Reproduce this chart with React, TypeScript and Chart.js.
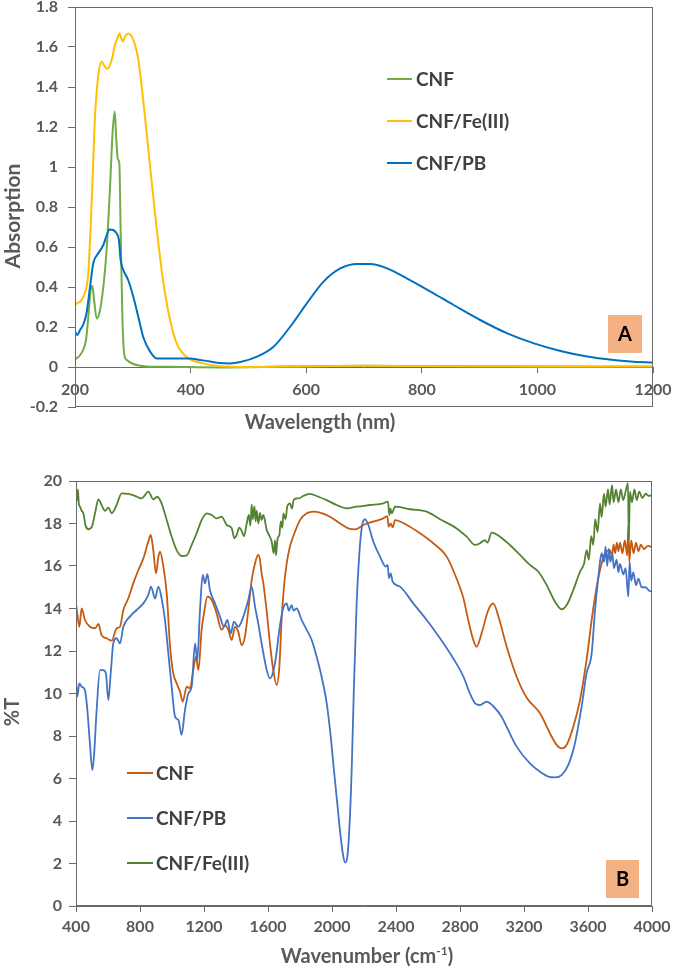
import React, { useEffect, useRef } from 'react';
import { Chart, registerables } from 'chart.js';

Chart.register(...registerables);

// ---------------- Panel A : UV-Vis absorption ----------------
const uvNames = ['CNF', 'CNF/Fe(III)', 'CNF/PB'];
const uvColors = ['#70AD47', '#FFC000', '#0070C0'];
const uvXTicks = [200, 400, 600, 800, 1000, 1200];
const uvYTicks = [-0.2, 0, 0.2, 0.4, 0.6, 0.8, 1, 1.2, 1.4, 1.6, 1.8];
const uvYTickLabels = ['-0.2', '0', '0.2', '0.4', '0.6', '0.8', '1', '1.2', '1.4', '1.6', '1.8'];

const uvCnfX = [200, 209, 214, 219, 223, 227, 230, 233, 237.5, 242, 249, 255, 260.6, 265, 268.7, 271.5, 274, 276.7, 279, 282, 285, 289.5, 301, 324, 360, 450, 600, 700, 800, 1000, 1200];
const uvCnfY = [0.038, 0.06, 0.085, 0.135, 0.25, 0.385, 0.405, 0.335, 0.243, 0.268, 0.40, 0.60, 0.90, 1.17, 1.277, 1.135, 1.04, 1.02, 0.67, 0.25, 0.068, 0.035, 0.015, 0.003, 0.001, -0.002, 0.004, 0.006, 0.005, 0.002, 0.0];

const uvFeX = [200, 204, 208.7, 217, 223, 229, 234.6, 240, 246, 250, 255, 263.5, 269, 273, 276.7, 282.5, 287, 292, 301, 309.6, 318, 330, 341, 353, 364.5, 376, 393, 422, 451, 500, 600, 700, 800, 900, 1000, 1100, 1200];
const uvFeY = [0.31, 0.32, 0.327, 0.37, 0.47, 0.835, 1.25, 1.45, 1.527, 1.51, 1.49, 1.535, 1.61, 1.64, 1.667, 1.627, 1.655, 1.667, 1.635, 1.535, 1.335, 1.0, 0.70, 0.42, 0.235, 0.118, 0.05, 0.018, 0.004, 0.0, 0.004, 0.006, 0.005, 0.004, 0.003, 0.002, 0.004];

const uvPbX = [200, 204, 208.7, 214, 220, 226, 231.7, 240, 249, 255, 259.4, 266, 272, 276, 279, 283.6, 292, 301, 309.6, 318, 330, 341.5, 364.5, 382, 399, 411, 434, 451, 468, 486, 515, 543, 572, 601, 630, 659, 688, 711, 740, 774, 815, 855, 901, 948, 994, 1040, 1086, 1132, 1161, 1200];
const uvPbY = [0.177, 0.16, 0.185, 0.21, 0.27, 0.40, 0.52, 0.567, 0.61, 0.66, 0.688, 0.685, 0.668, 0.635, 0.535, 0.485, 0.435, 0.35, 0.25, 0.15, 0.077, 0.043, 0.042, 0.043, 0.042, 0.038, 0.027, 0.02, 0.018, 0.025, 0.052, 0.10, 0.20, 0.318, 0.427, 0.493, 0.515, 0.515, 0.493, 0.443, 0.377, 0.31, 0.235, 0.168, 0.118, 0.08, 0.052, 0.035, 0.028, 0.022];

// ---------------- Panel B : FTIR ----------------
const ftNames = ['CNF', 'CNF/PB', 'CNF/Fe(III)'];
const ftColors = ['#C55A11', '#4472C4', '#548235'];
const ftXTicks = [400, 800, 1200, 1600, 2000, 2400, 2800, 3200, 3600, 4000];
const ftYTicks = [0, 2, 4, 6, 8, 10, 12, 14, 16, 18, 20];

const ftCnfX = [400, 408, 421, 435, 456, 487, 519, 540, 560, 592, 623, 654, 675, 696, 727, 758, 790, 821, 852, 867, 883, 900, 915, 925, 946, 967, 988, 1008, 1029, 1050, 1067, 1092, 1112, 1133, 1150, 1165, 1185, 1200, 1221, 1248, 1279, 1310, 1331, 1352, 1373, 1394, 1414, 1435, 1456, 1477, 1498, 1519, 1539, 1550, 1560, 1571, 1592, 1612, 1633, 1654, 1671, 1685, 1700, 1717, 1737, 1769, 1800, 1842, 1883, 1925, 1987, 2050, 2102, 2144, 2196, 2258, 2321, 2346, 2354, 2367, 2379, 2394, 2467, 2550, 2633, 2717, 2779, 2821, 2850, 2883, 2904, 2935, 2977, 3008, 3040, 3092, 3154, 3217, 3300, 3362, 3404, 3435, 3466, 3508, 3550, 3591, 3623, 3644, 3675, 3706, 3737, 3750, 3760, 3770, 3780, 3790, 3800, 3815, 3830, 3845, 3852, 3858, 3870, 3885, 3900, 3915, 3930, 3950, 3975, 4000];
const ftCnfY = [14.24, 13.77, 13.14, 14.0, 13.46, 13.14, 13.07, 13.27, 12.75, 12.6, 12.49, 13.07, 13.14, 13.93, 14.48, 15.18, 15.81, 16.36, 17.15, 17.46, 16.75, 15.65, 16.44, 16.68, 15.97, 14.71, 12.2, 10.95, 10.48, 10.09, 9.62, 10.32, 10.24, 11.1, 11.73, 11.1, 12.99, 13.77, 14.56, 14.4, 13.77, 12.99, 13.22, 12.99, 12.52, 13.14, 12.91, 12.28, 12.68, 13.93, 15.34, 16.13, 16.52, 16.28, 15.65, 15.18, 13.85, 12.36, 11.1, 10.4, 11.26, 13.46, 15.03, 16.13, 16.91, 17.62, 18.16, 18.48, 18.56, 18.51, 18.32, 18.0, 17.77, 17.72, 17.93, 18.09, 18.24, 18.35, 17.85, 18.0, 17.82, 18.16, 17.93, 17.54, 17.07, 16.44, 15.4, 14.5, 13.5, 12.52, 12.2, 12.83, 13.93, 14.24, 13.62, 12.2, 10.79, 9.8, 9.07, 8.13, 7.58, 7.42, 7.58, 8.44, 9.69, 11.58, 13.46, 14.56, 15.81, 16.6, 16.75, 16.5, 17.0, 16.6, 17.1, 16.7, 17.1, 16.6, 17.2, 16.5, 17.9, 16.2, 17.2, 16.6, 17.1, 16.7, 17.0, 16.8, 16.95, 16.88];

const ftPbX = [400, 408, 421, 435, 456, 471, 487, 502, 512, 529, 550, 571, 587, 602, 617, 633, 654, 675, 696, 737, 779, 821, 852, 869, 894, 915, 935, 956, 977, 998, 1019, 1040, 1060, 1081, 1102, 1123, 1144, 1158, 1175, 1192, 1206, 1221, 1237, 1269, 1300, 1325, 1346, 1367, 1387, 1414, 1446, 1477, 1498, 1519, 1539, 1560, 1592, 1612, 1633, 1650, 1671, 1692, 1717, 1730, 1748, 1760, 1779, 1810, 1842, 1873, 1904, 1935, 1967, 1992, 2012, 2033, 2054, 2071, 2083, 2096, 2108, 2123, 2137, 2154, 2171, 2187, 2206, 2227, 2258, 2300, 2337, 2348, 2356, 2367, 2379, 2425, 2508, 2592, 2675, 2758, 2821, 2862, 2894, 2925, 2967, 3008, 3060, 3100, 3154, 3237, 3300, 3352, 3394, 3435, 3477, 3518, 3560, 3591, 3623, 3644, 3665, 3685, 3700, 3710, 3720, 3730, 3740, 3752, 3762, 3779, 3790, 3800, 3821, 3835, 3852, 3860, 3870, 3883, 3900, 3915, 3935, 3960, 3980, 4000];
const ftPbY = [10.71, 9.85, 10.48, 10.32, 10.16, 9.22, 7.65, 6.4, 7.0, 9.22, 11.1, 11.1, 10.95, 9.69, 10.95, 12.36, 12.6, 12.36, 13.14, 13.62, 13.93, 14.24, 14.64, 15.03, 14.48, 15.03, 14.48, 13.46, 11.89, 10.32, 8.91, 8.75, 8.05, 9.22, 10.0, 10.32, 12.36, 11.58, 13.93, 15.58, 15.18, 15.62, 14.87, 14.24, 13.62, 13.14, 13.46, 12.83, 13.38, 13.14, 13.62, 14.4, 15.03, 14.08, 13.3, 12.36, 11.1, 10.71, 11.03, 11.73, 12.99, 13.93, 14.24, 13.9, 14.16, 13.9, 14.0, 13.46, 12.99, 12.52, 11.73, 10.79, 9.54, 7.97, 6.4, 4.83, 3.26, 2.32, 2.04, 2.32, 3.58, 6.4, 10.32, 14.24, 16.6, 17.85, 18.2, 17.93, 17.15, 16.44, 15.97, 16.05, 15.42, 15.65, 15.26, 15.03, 14.24, 13.46, 12.6, 11.65, 10.8, 10.0, 9.54, 9.46, 9.62, 9.4, 8.91, 8.3, 7.5, 6.71, 6.32, 6.09, 6.05, 6.16, 6.64, 7.65, 9.38, 10.95, 11.89, 13.93, 15.5, 16.6, 16.2, 16.91, 16.0, 16.8, 16.2, 16.6, 15.9, 16.3, 15.7, 16.1, 15.6, 15.9, 14.56, 16.2, 15.3, 15.7, 15.1, 15.4, 15.0, 15.0, 14.85, 14.79];

const ftFeX = [400, 408, 412, 418, 425, 435, 446, 460, 477, 498, 519, 540, 560, 581, 602, 623, 654, 685, 727, 769, 810, 852, 883, 908, 935, 967, 998, 1029, 1060, 1092, 1123, 1154, 1185, 1217, 1248, 1279, 1310, 1342, 1373, 1390, 1404, 1420, 1435, 1450, 1467, 1480, 1490, 1498, 1505, 1515, 1523, 1529, 1540, 1550, 1560, 1571, 1592, 1610, 1623, 1635, 1644, 1650, 1660, 1671, 1680, 1690, 1696, 1710, 1720, 1737, 1750, 1760, 1779, 1800, 1821, 1862, 1915, 1967, 2029, 2092, 2154, 2237, 2321, 2350, 2358, 2365, 2373, 2394, 2487, 2592, 2675, 2779, 2842, 2894, 2925, 2956, 2971, 2998, 3050, 3112, 3175, 3237, 3290, 3342, 3394, 3435, 3467, 3508, 3550, 3575, 3592, 3605, 3620, 3633, 3645, 3660, 3675, 3685, 3700, 3710, 3725, 3735, 3750, 3760, 3775, 3790, 3805, 3820, 3835, 3850, 3855, 3862, 3875, 3890, 3905, 3920, 3940, 3960, 3980, 4000];
const ftFeY = [19.58, 19.1, 19.6, 18.9, 18.8, 18.6, 18.48, 17.9, 17.73, 17.82, 18.48, 19.14, 18.87, 18.6, 18.75, 18.48, 18.87, 19.42, 19.39, 19.3, 19.18, 19.5, 19.14, 19.26, 18.95, 18.16, 17.38, 16.75, 16.47, 16.5, 16.99, 17.54, 18.16, 18.48, 18.4, 18.24, 18.32, 17.93, 17.78, 17.3, 17.46, 17.8, 17.66, 17.4, 18.0, 18.4, 17.9, 18.9, 18.2, 18.8, 18.1, 18.6, 18.0, 18.5, 18.16, 18.4, 17.7, 17.4, 17.15, 16.6, 17.2, 16.5, 17.3, 17.46, 18.1, 17.8, 18.48, 18.2, 18.8, 18.95, 18.7, 19.1, 19.18, 19.2, 19.3, 19.39, 19.26, 19.1, 18.87, 18.71, 18.79, 18.87, 18.95, 19.03, 18.4, 18.7, 18.48, 18.79, 18.67, 18.56, 18.2, 17.77, 17.38, 16.99, 17.07, 17.22, 17.1, 17.57, 17.38, 16.99, 16.52, 16.05, 15.73, 15.1, 14.32, 13.96, 14.16, 14.87, 15.73, 16.1, 16.75, 16.3, 17.4, 17.0, 18.2, 17.6, 18.95, 18.3, 19.4, 18.8, 19.6, 18.9, 19.8, 19.0, 19.6, 19.0, 19.6, 19.1, 19.5, 19.9, 17.2, 19.5, 19.0, 19.6, 19.1, 19.5, 19.2, 19.4, 19.3, 19.34];

// ---------------- styling constants ----------------
const FONT = 'Lato, "Open Sans", "DejaVu Sans", sans-serif';
const TICK_COLOR = '#595959';
const AXIS_COLOR = '#6a6a6a';
const LEGEND_COLOR = '#404040';
const TAG_FILL = '#F4B183';

function pts(xs: number[], ys: number[]) {
  return xs.map((x, i) => ({ x, y: ys[i] }));
}

function zeroPad(s: any) {
  s.paddingLeft = 0;
  s.paddingRight = 0;
  s.paddingTop = 0;
  s.paddingBottom = 0;
}

type Decor = {
  id: string;
  legendX0: number;
  legendX1: number;
  legendTextX: number;
  legendYs: number[];
  names: string[];
  colors: string[];
  tag: string;
  tagRect: [number, number, number, number];
  yTitle: string;
  yTitlePos: [number, number];
  yTitleSize: number;
  xTitleParts: { text: string; sup?: boolean }[];
  xTitlePos: [number, number];
};

function decorPlugin(d: Decor) {
  return {
    id: d.id,
    afterDraw(chart: any) {
      const ctx = chart.ctx as CanvasRenderingContext2D;
      const a = chart.chartArea;
      ctx.save();
      // frame around plot area
      ctx.strokeStyle = AXIS_COLOR;
      ctx.lineWidth = 1;
      const l = Math.round(a.left) + 0.5;
      const t = Math.round(a.top) + 0.5;
      const r = Math.round(a.right) - 0.5;
      const b = Math.round(a.bottom) - 0.5;
      ctx.strokeRect(l, t, r - l, b - t);

      // legend
      ctx.font = `bold 19px ${FONT}`;
      ctx.textBaseline = 'middle';
      ctx.textAlign = 'left';
      d.names.forEach((name, i) => {
        const y = d.legendYs[i];
        ctx.strokeStyle = d.colors[i];
        ctx.lineWidth = 2;
        ctx.beginPath();
        ctx.moveTo(d.legendX0, y);
        ctx.lineTo(d.legendX1, y);
        ctx.stroke();
        ctx.fillStyle = LEGEND_COLOR;
        ctx.fillText(name, d.legendTextX, y + 1);
      });

      // panel tag
      const [tx, ty, tw, th] = d.tagRect;
      ctx.fillStyle = TAG_FILL;
      ctx.fillRect(tx, ty, tw, th);
      ctx.fillStyle = '#000000';
      ctx.font = `bold 20px ${FONT}`;
      ctx.textAlign = 'center';
      ctx.fillText(d.tag, tx + tw / 2, ty + th / 2 + 1);

      // y title (rotated)
      ctx.save();
      ctx.translate(d.yTitlePos[0], d.yTitlePos[1]);
      ctx.rotate(-Math.PI / 2);
      ctx.font = `bold ${d.yTitleSize}px ${FONT}`;
      ctx.fillStyle = TICK_COLOR;
      ctx.textAlign = 'center';
      ctx.textBaseline = 'middle';
      ctx.fillText(d.yTitle, 0, 0);
      ctx.restore();

      // x title (possibly with superscript)
      const mainFont = `bold 20px ${FONT}`;
      const supFont = `bold 12px ${FONT}`;
      let total = 0;
      const widths = d.xTitleParts.map((p) => {
        ctx.font = p.sup ? supFont : mainFont;
        const w = ctx.measureText(p.text).width;
        total += w;
        return w;
      });
      let x = d.xTitlePos[0] - total / 2;
      ctx.fillStyle = TICK_COLOR;
      ctx.textAlign = 'left';
      ctx.textBaseline = 'middle';
      d.xTitleParts.forEach((p, i) => {
        ctx.font = p.sup ? supFont : mainFont;
        ctx.fillText(p.text, x, d.xTitlePos[1] + (p.sup ? -6 : 0));
        x += widths[i];
      });
      ctx.restore();
    },
  };
}

function tickFont() {
  return { family: FONT, size: 16, weight: 'bold' as const };
}

function buildUV(canvas: HTMLCanvasElement) {
  const series = [
    { x: uvCnfX, y: uvCnfY },
    { x: uvFeX, y: uvFeY },
    { x: uvPbX, y: uvPbY },
  ];
  return new Chart(canvas, {
    type: 'line',
    data: {
      datasets: series.map((s, i) => ({
        label: uvNames[i],
        data: pts(s.x, s.y),
        borderColor: uvColors[i],
        backgroundColor: uvColors[i],
        borderWidth: 2,
        pointRadius: 0,
        fill: false,
        cubicInterpolationMode: 'monotone' as const,
        order: 2 - i,
      })),
    },
    options: {
      animation: false,
      responsive: false,
      devicePixelRatio: 1,
      events: [],
      layout: { padding: { top: 7, right: 22, bottom: 33, left: 0 } },
      plugins: { legend: { display: false }, tooltip: { enabled: false } },
      scales: {
        x: {
          type: 'linear',
          position: { y: 0 } as any,
          min: 200,
          max: 1200,
          afterBuildTicks: (s: any) => {
            s.ticks = uvXTicks.map((v) => ({ value: v }));
          },
          afterFit: zeroPad,
          ticks: {
            font: tickFont(),
            color: TICK_COLOR,
            padding: 8,
            maxRotation: 0,
            autoSkip: false,
            callback: (v: any, i: number) => String(uvXTicks[i]),
          },
          grid: { display: true, drawOnChartArea: false, drawTicks: true, tickLength: 5, color: AXIS_COLOR },
          border: { display: true, color: AXIS_COLOR, width: 1 },
        },
        y: {
          type: 'linear',
          min: -0.2,
          max: 1.8,
          afterBuildTicks: (s: any) => {
            s.ticks = uvYTicks.map((v) => ({ value: v }));
          },
          afterFit: (s: any) => {
            zeroPad(s);
            s.width = 75;
          },
          ticks: {
            font: tickFont(),
            color: TICK_COLOR,
            padding: 10,
            autoSkip: false,
            callback: (v: any, i: number) => uvYTickLabels[i],
          },
          grid: { display: true, drawOnChartArea: false, drawTicks: true, tickLength: 7, color: AXIS_COLOR },
          border: { display: true, color: AXIS_COLOR, width: 1 },
        },
      },
    },
    plugins: [
      decorPlugin({
        id: 'decorA',
        legendX0: 387,
        legendX1: 412,
        legendTextX: 416,
        legendYs: [79, 121, 163],
        names: uvNames,
        colors: uvColors,
        tag: 'A',
        tagRect: [608, 315, 34, 38],
        yTitle: 'Absorption',
        yTitlePos: [13, 216],
        yTitleSize: 21,
        xTitleParts: [{ text: 'Wavelength (nm)' }],
        xTitlePos: [320, 423],
      }),
    ],
  } as any);
}

function buildFT(canvas: HTMLCanvasElement) {
  const series = [
    { x: ftCnfX, y: ftCnfY },
    { x: ftPbX, y: ftPbY },
    { x: ftFeX, y: ftFeY },
  ];
  return new Chart(canvas, {
    type: 'line',
    data: {
      datasets: series.map((s, i) => ({
        label: ftNames[i],
        data: pts(s.x, s.y),
        borderColor: ftColors[i],
        backgroundColor: ftColors[i],
        borderWidth: 1.8,
        pointRadius: 0,
        fill: false,
        cubicInterpolationMode: 'monotone' as const,
        order: 2 - i,
      })),
    },
    options: {
      animation: false,
      responsive: false,
      devicePixelRatio: 1,
      events: [],
      layout: { padding: { top: 41, right: 23, bottom: 0, left: 0 } },
      plugins: { legend: { display: false }, tooltip: { enabled: false } },
      scales: {
        x: {
          type: 'linear',
          position: 'bottom',
          min: 400,
          max: 4000,
          afterBuildTicks: (s: any) => {
            s.ticks = ftXTicks.map((v) => ({ value: v }));
          },
          afterFit: (s: any) => {
            zeroPad(s);
            s.height = 62;
          },
          ticks: {
            font: tickFont(),
            color: TICK_COLOR,
            padding: 5,
            maxRotation: 0,
            autoSkip: false,
            callback: (v: any, i: number) => String(ftXTicks[i]),
          },
          grid: { display: true, drawOnChartArea: false, drawTicks: true, tickLength: 6, color: AXIS_COLOR },
          border: { display: true, color: AXIS_COLOR, width: 1 },
        },
        y: {
          type: 'linear',
          min: 0,
          max: 20,
          afterBuildTicks: (s: any) => {
            s.ticks = ftYTicks.map((v) => ({ value: v }));
          },
          afterFit: (s: any) => {
            zeroPad(s);
            s.width = 76;
          },
          ticks: {
            font: tickFont(),
            color: TICK_COLOR,
            padding: 7,
            autoSkip: false,
            callback: (v: any, i: number) => String(ftYTicks[i]),
          },
          grid: { display: true, drawOnChartArea: false, drawTicks: true, tickLength: 7, color: AXIS_COLOR },
          border: { display: true, color: AXIS_COLOR, width: 1 },
        },
      },
    },
    plugins: [
      decorPlugin({
        id: 'decorB',
        legendX0: 127,
        legendX1: 153,
        legendTextX: 156,
        legendYs: [333, 378, 423],
        names: ftNames,
        colors: ftColors,
        tag: 'B',
        tagRect: [606, 420, 33, 38],
        yTitle: '%T',
        yTitlePos: [13, 272],
        yTitleSize: 20,
        xTitleParts: [{ text: 'Wavenumber (cm' }, { text: '-1', sup: true }, { text: ')' }],
        xTitlePos: [367, 517],
      }),
    ],
  } as any);
}

export default function App() {
  const refA = useRef<HTMLCanvasElement | null>(null);
  const refB = useRef<HTMLCanvasElement | null>(null);

  useEffect(() => {
    const a = refA.current ? buildUV(refA.current) : null;
    const b = refB.current ? buildFT(refB.current) : null;
    return () => {
      if (a) a.destroy();
      if (b) b.destroy();
    };
  }, []);

  return (
    <div style={{ position: 'absolute', left: 0, top: 0, width: 675, height: 968, background: '#ffffff' }}>
      <canvas
        ref={refA}
        width={675}
        height={440}
        style={{ position: 'absolute', left: 0, top: 0, width: 675, height: 440, display: 'block' }}
      />
      <canvas
        ref={refB}
        width={675}
        height={528}
        style={{ position: 'absolute', left: 0, top: 440, width: 675, height: 528, display: 'block' }}
      />
    </div>
  );
}
